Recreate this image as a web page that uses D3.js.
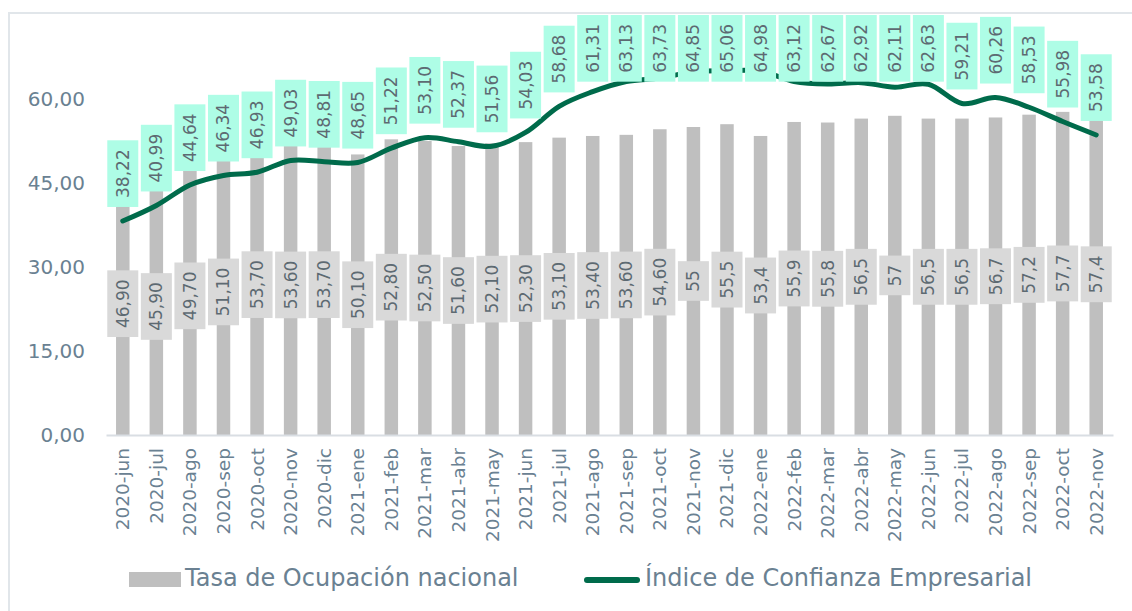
<!DOCTYPE html>
<html>
<head>
<meta charset="utf-8">
<script src="https://cdn.jsdelivr.net/npm/d3@7"></script>
<style>
  html, body { margin: 0; padding: 0; background: #ffffff; }
  svg { display: block; }
  text { font-family: "DejaVu Sans", sans-serif; }
</style>
</head>
<body>
<svg id="chart" width="1132" height="611"></svg>
<script>
// Months shown on the category axis
const months = [
  "2020-jun","2020-jul","2020-ago","2020-sep","2020-oct","2020-nov","2020-dic",
  "2021-ene","2021-feb","2021-mar","2021-abr","2021-may","2021-jun","2021-jul",
  "2021-ago","2021-sep","2021-oct","2021-nov","2021-dic",
  "2022-ene","2022-feb","2022-mar","2022-abr","2022-may","2022-jun","2022-jul",
  "2022-ago","2022-sep","2022-oct","2022-nov"
];

// Tasa de Ocupación nacional (bars)
const ocupacion = [
  46.90, 45.90, 49.70, 51.10, 53.70, 53.60, 53.70,
  50.10, 52.80, 52.50, 51.60, 52.10, 52.30, 53.10,
  53.40, 53.60, 54.60, 55, 55.5,
  53.4, 55.9, 55.8, 56.5, 57, 56.5, 56.5,
  56.7, 57.2, 57.7, 57.4
];
// Decimal places used by each bar's data label
const ocupacionDecimals = [
  2, 2, 2, 2, 2, 2, 2,
  2, 2, 2, 2, 2, 2, 2,
  2, 2, 2, 0, 1,
  1, 1, 1, 1, 0, 1, 1,
  1, 1, 1, 1
];

// Índice de Confianza Empresarial (line)
const confianza = [
  38.22, 40.99, 44.64, 46.34, 46.93, 49.03, 48.81,
  48.65, 51.22, 53.10, 52.37, 51.56, 54.03, 58.68,
  61.31, 63.13, 63.73, 64.85, 65.06,
  64.98, 63.12, 62.67, 62.92, 62.11, 62.63, 59.21,
  60.26, 58.53, 55.98, 53.58
];

const yTicks = [0, 15, 30, 45, 60];
const legendLabels = ["Tasa de Ocupación nacional", "Índice de Confianza Empresarial"];

const colors = {
  bar: "#bfbfbf",
  barLabelBg: "#d9d9d9",
  line: "#006b4b",
  lineLabelBg: "#aefde6",
  labelText: "#5d6a72",
  axisText: "#6a8192",
  axisLine: "#d9dee3",
  frame: "#e1e6ea"
};

const fmt = (v, d) => v.toFixed(d).replace(".", ",");

const svg = d3.select("#chart");

// Outer frame of the chart area
svg.append("path")
  .attr("d", "M9,611 L9,13 L1132,13")
  .attr("fill", "none")
  .attr("stroke", colors.frame)
  .attr("stroke-width", 2);

const plot = { left: 106, right: 1113, top: 43, bottom: 435 };

const x = d3.scaleBand()
  .domain(months)
  .range([plot.left, plot.right])
  .paddingInner(0)
  .paddingOuter(0);

const y = d3.scaleLinear()
  .domain([0, 70])
  .range([plot.bottom, plot.top]);

const barW = 13.5;
const cx = m => x(m) + x.bandwidth() / 2;

// Y axis labels
const yAxis = svg.append("g")
  .attr("transform", `translate(${plot.left - 21},0)`)
  .call(d3.axisLeft(y).tickValues(yTicks).tickSize(0).tickPadding(0)
        .tickFormat(d => fmt(d, 2)));
yAxis.select(".domain").remove();
yAxis.selectAll("text")
  .attr("fill", colors.axisText)
  .style("font-size", "20px")
  .style("font-family", "DejaVu Sans, sans-serif");

// Bars
svg.append("g").selectAll("rect")
  .data(months)
  .join("rect")
  .attr("x", m => cx(m) - barW / 2)
  .attr("width", barW)
  .attr("y", (m, i) => y(ocupacion[i]))
  .attr("height", (m, i) => y(0) - y(ocupacion[i]))
  .attr("fill", colors.bar);

// Category axis
const xAxis = svg.append("g")
  .attr("transform", `translate(0,${plot.bottom})`)
  .call(d3.axisBottom(x).tickSize(0).tickPadding(0));
xAxis.select(".domain")
  .attr("stroke", colors.axisLine)
  .attr("stroke-width", 2);
xAxis.selectAll("text")
  .attr("fill", colors.axisText)
  .style("font-size", "18.5px")
  .style("font-family", "DejaVu Sans, sans-serif")
  .attr("text-anchor", "end")
  .attr("dominant-baseline", "central")
  .attr("dy", null)
  .attr("y", 0)
  .attr("transform", "translate(0,13) rotate(-90)");

// Rotated label inside a filled box
const labelFont = 17;
const boxW = 31;
const pad = 9;
function addLabel(g, text, cxPos, cyPos, bg, anchorTop) {
  const grp = g.append("g");
  const t = grp.append("text")
    .text(text)
    .attr("fill", colors.labelText)
    .attr("text-anchor", "middle")
    .attr("dominant-baseline", "central")
    .style("font-size", labelFont + "px");
  const len = t.node().getComputedTextLength();
  const h = len + pad * 2;
  let cyFinal = cyPos;
  if (anchorTop !== undefined) {
    // anchorTop: bottom edge of the box sits here; keep the box inside the chart area
    let top = anchorTop - h;
    if (top < 15) top = 15;
    cyFinal = top + h / 2;
  }
  grp.insert("rect", "text")
    .attr("x", cxPos - boxW / 2)
    .attr("y", cyFinal - h / 2)
    .attr("width", boxW)
    .attr("height", h)
    .attr("fill", bg);
  t.attr("transform", `translate(${cxPos},${cyFinal}) rotate(-90)`);
}

// Bar labels, centred on each bar
const barLabels = svg.append("g");
months.forEach((m, i) => {
  const mid = (y(ocupacion[i]) + y(0)) / 2;
  addLabel(barLabels, fmt(ocupacion[i], ocupacionDecimals[i]), cx(m), mid, colors.barLabelBg);
});

// Smoothed confidence line
const line = d3.line()
  .x((d, i) => cx(months[i]))
  .y(d => y(d))
  .curve(d3.curveCardinal.tension(0));
svg.append("path")
  .datum(confianza)
  .attr("d", line)
  .attr("fill", "none")
  .attr("stroke", colors.line)
  .attr("stroke-width", 5)
  .attr("stroke-linecap", "round")
  .attr("stroke-linejoin", "round");

// Line labels above each point
const lineLabels = svg.append("g");
months.forEach((m, i) => {
  addLabel(lineLabels, fmt(confianza[i], 2), cx(m), 0, colors.lineLabelBg, y(confianza[i]) - 14);
});

// Legend
const legend = svg.append("g");
legend.append("rect")
  .attr("x", 129).attr("y", 572).attr("width", 52).attr("height", 15)
  .attr("fill", colors.bar);
legend.append("text")
  .attr("x", 185).attr("y", 586)
  .attr("fill", colors.axisText)
  .style("font-size", "24px")
  .text(legendLabels[0]);
legend.append("line")
  .attr("x1", 587).attr("x2", 637).attr("y1", 580).attr("y2", 580)
  .attr("stroke", colors.line).attr("stroke-width", 6)
  .attr("stroke-linecap", "round");
legend.append("text")
  .attr("x", 645).attr("y", 586)
  .attr("fill", colors.axisText)
  .style("font-size", "24px")
  .text(legendLabels[1]);
</script>
</body>
</html>
